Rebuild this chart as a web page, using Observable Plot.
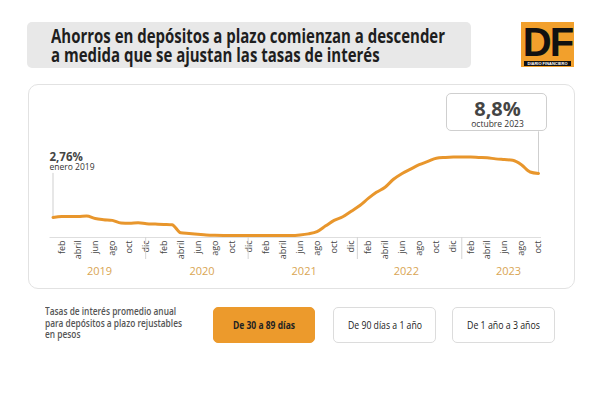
<!DOCTYPE html>
<html>
<head>
<meta charset="utf-8">
<script src="https://cdn.jsdelivr.net/npm/d3@7"></script>
<script src="https://cdn.jsdelivr.net/npm/@observablehq/plot@0.6"></script>
<style>
  html, body { margin: 0; padding: 0; background: #fff; }
  #page { position: relative; width: 600px; height: 394px; overflow: hidden; font-family: "Open Sans", sans-serif; }
  .abs { position: absolute; box-sizing: border-box; }
  .ajuste { display: inline-block; white-space: nowrap; transform-origin: 0 0; }
  #titulo { left: 27px; top: 22px; width: 444px; height: 46px; background: #e8e8e8; border-radius: 5px; }
  #titulo .linea { position: absolute; left: 24px; font-weight: 700; font-size: 19px; color: #1e1e1e; line-height: 19px; }
  #logo { left: 521px; top: 22px; width: 53px; height: 45px; background: #f2a02c; }
  #logo .df { position: absolute; left: 0; width: 53px; top: 2px; text-align: center; font-family: "Liberation Sans", Arial, sans-serif;
              font-weight: bold; font-size: 40px; line-height: 36px; color: #111; letter-spacing: -2px; }
  #logo .strip { position: absolute; left: 3px; top: 39px; width: 47px; height: 5px; background: #111; color: #fff;
                 font-family: "Liberation Sans", sans-serif; font-size: 4px; line-height: 5px; text-align: center; font-weight: bold; }
  #tarjeta { left: 28px; top: 84px; width: 547px; height: 205px; border: 1px solid #e2e2e2; border-radius: 10px; }
  #caja { left: 446px; top: 93px; width: 101px; height: 38px; border: 1px solid #cfcfcf; border-radius: 5px; background: #fff; }
  #chart { left: 0; top: 84px; }
  #nota { left: 45px; top: 306px; font-size: 10.5px; line-height: 11.7px; font-weight: 600; color: #555; }
  #nota .ajuste { display: block; }
  .boton { top: 307px; height: 36px; border-radius: 5px; border: 1px solid #dcdcdc; background: #fff;
           font-size: 10.5px; color: #222; }
  .boton .ajuste { position: absolute; top: 10px; }
  .boton.activo { background: #ec9a2c; border-color: #ec9a2c; font-weight: 700; }
</style>
</head>
<body>
<div id="page">
  <div id="titulo" class="abs">
    <div class="linea" style="top:4.5px"><span class="ajuste" data-ancho="394">Ahorros en depósitos a plazo comienzan a descender</span></div>
    <div class="linea" style="top:23.5px"><span class="ajuste">a medida que se ajustan las tasas de interés</span></div>
  </div>
  <div id="logo" class="abs"><div class="df">DF</div><div class="strip">DIARIO FINANCIERO</div></div>
  <div id="tarjeta" class="abs"></div>
  <div id="caja" class="abs"></div>
  <div id="chart" class="abs"></div>
  <div id="nota" class="abs"></div>
  <div id="botones"></div>
</div>
<script>
// Tasa promedio anual (%) de depósitos a plazo de 30 a 89 días, mensual desde enero 2019
const inicio = new Date(2019, 0, 1);
const tasas = [
  2.76, 2.88, 2.90, 2.90, 2.95, 2.60, 2.45, 2.35, 1.98, 1.95, 2.02, 1.90,   // 2019
  1.85, 1.80, 1.75, 0.65, 0.55, 0.45, 0.35, 0.30, 0.28, 0.28, 0.28, 0.28,   // 2020
  0.28, 0.28, 0.28, 0.28, 0.28, 0.35, 0.50, 0.80, 1.60, 2.35, 2.85, 3.60,   // 2021
  4.40, 5.40, 6.20, 6.90, 8.00, 8.80, 9.40, 10.00, 10.45, 10.90, 11.00, 11.05, // 2022
  11.05, 11.05, 11.00, 10.95, 10.80, 10.70, 10.60, 10.00, 9.00, 8.80        // 2023
];
const mesesCortos = ["ene", "feb", "mar", "abril", "may", "jun", "jul", "ago", "sep", "oct", "nov", "dic"];
const mesesLargos = ["enero", "febrero", "marzo", "abril", "mayo", "junio", "julio", "agosto", "septiembre", "octubre", "noviembre", "diciembre"];
const anios = [2019, 2020, 2021, 2022, 2023];
// líneas divisorias entre años en el eje
const divisiones = ["2019-11-28", "2020-11-28", "2021-12-23", "2022-12-31"];
const nota = ["Tasas de interés promedio anual", "para depósitos a plazo rejustables", "en pesos"];
const botones = ["De 30 a 89 días", "De 90 días a 1 año", "De 1 año a 3 años"];

const mes = i => d3.timeMonth.offset(inicio, i);
const serie = tasas.map((tasa, i) => ({fecha: mes(i), tasa}));
const primero = serie[0];
const ultimo = serie[serie.length - 1];

// etiquetas cada dos meses: feb, abril, jun, ago, oct, dic
const marcas = serie.filter(d => d.fecha.getMonth() % 2 === 1).map(d => d.fecha);
const separadores = divisiones.map(d => d3.timeParse("%Y-%m-%d")(d));
const centrosAnio = anios.map(a => new Date(a, 5, 16));

const pct = v => String(v).replace(".", ",") + "%";
const fechaLarga = d => `${mesesLargos[d.getMonth()]} ${d.getFullYear()}`;

const naranja = "#e8962c";

const chart = Plot.plot({
  width: 600,
  height: 205,
  marginLeft: 52.5,
  marginRight: 62,
  marginTop: 7.4,
  marginBottom: 52,
  x: {type: "time", domain: [primero.fecha, ultimo.fecha]},
  y: {domain: [0, 20], axis: null},
  style: {fontFamily: "'Open Sans', sans-serif", background: "transparent", overflow: "visible"},
  marks: [
    Plot.ruleY([0], {stroke: "#dedede", insetLeft: -3, insetRight: -3}),
    Plot.axisX(marcas, {label: null, tickSize: 0, tickPadding: 3, tickRotate: -90, fontSize: 9, fill: "#444",
      tickFormat: d => mesesCortos[d.getMonth()]}),
    Plot.axisX(separadores, {label: null, tickSize: 22, tickFormat: () => "", stroke: "#d4d4d4"}),
    Plot.axisX(centrosAnio, {label: null, tickSize: 0, tickPadding: 30, fontSize: 11, fill: "#d9a553",
      tickFormat: d => String(d.getFullYear())}),
    Plot.ruleX([primero], {x: "fecha", y1: "tasa", y2: "tasa", insetTop: -44, stroke: "#cfcfcf"}),
    Plot.ruleX([ultimo], {x: "fecha", y1: "tasa", y2: "tasa", insetTop: -41.6, stroke: "#cfcfcf"}),
    Plot.line(serie, {x: "fecha", y: "tasa", stroke: naranja, strokeWidth: 3, curve: "monotone-x"}),
    Plot.text([primero], {x: "fecha", y: "tasa", text: d => pct(d.tasa), textAnchor: "start", lineAnchor: "bottom",
      dx: -3.5, dy: -56, fontSize: 11.5, fontWeight: "bold", fill: "#444"}),
    Plot.text([primero], {x: "fecha", y: "tasa", text: d => fechaLarga(d.fecha), textAnchor: "start", lineAnchor: "bottom",
      dx: -3.5, dy: -47.5, fontSize: 8.5, fill: "#333"}),
    Plot.text([ultimo], {x: "fecha", y: "tasa", text: d => pct(d.tasa), lineAnchor: "bottom",
      dx: -41, dy: -57.6, fontSize: 20, fontWeight: "bold", fill: "#444"}),
    Plot.text([ultimo], {x: "fecha", y: "tasa", text: d => fechaLarga(d.fecha), lineAnchor: "bottom",
      dx: -41, dy: -46, fontSize: 8.5, fill: "#333"})
  ]
});
document.getElementById("chart").append(chart);

// nota al pie en tres líneas
const anchosNota = [133, 141, null];
const notaEl = document.getElementById("nota");
nota.forEach((t, i) => {
  const s = document.createElement("span");
  s.className = "ajuste";
  s.textContent = t;
  if (anchosNota[i]) s.dataset.ancho = anchosNota[i];
  notaEl.append(s);
});

// botones de plazo
const posiciones = [[213, 102], [333, 103], [452, 103]];
const anchosBoton = [62, 74, 73];
const contenedor = document.getElementById("botones");
botones.forEach((t, i) => {
  const b = document.createElement("div");
  b.className = "abs boton" + (i === 0 ? " activo" : "");
  b.style.left = posiciones[i][0] + "px";
  b.style.width = posiciones[i][1] + "px";
  const s = document.createElement("span");
  s.className = "ajuste";
  s.textContent = t;
  b.append(s);
  contenedor.append(b);
  const w = s.getBoundingClientRect().width;
  const k = anchosBoton[i] / w;
  s.style.transform = `scaleX(${k})`;
  s.style.left = ((posiciones[i][1] - 2 - anchosBoton[i]) / 2) + "px";
});

// texto condensado: escala horizontal para el ancho previsto
const t1 = document.querySelector('#titulo [data-ancho]');
const kt = +t1.dataset.ancho / t1.getBoundingClientRect().width;
document.querySelectorAll('#titulo .ajuste').forEach(s => s.style.transform = `scaleX(${kt})`);
const notaSpans = [...notaEl.querySelectorAll('.ajuste')];
const ks = notaSpans.filter(s => s.dataset.ancho).map(s => +s.dataset.ancho / s.getBoundingClientRect().width);
const kn = d3.mean(ks);
notaSpans.forEach(s => s.style.transform = `scaleX(${kn})`);
</script>
</body>
</html>
